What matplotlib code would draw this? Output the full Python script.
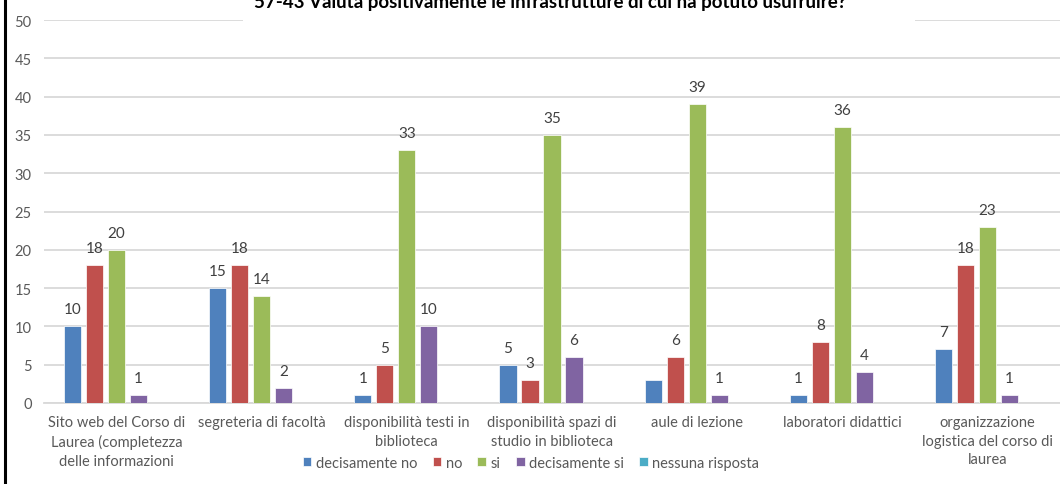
#!/usr/bin/env python3
"""
Grouped bar chart: valutazione delle infrastrutture (domanda 57-43).
"""

import numpy as np
import matplotlib
matplotlib.use('Agg')
import matplotlib.pyplot as plt
from matplotlib.patches import Rectangle

# Data
categories = [
    'Sito web del Corso di\nLaurea (completezza\ndelle informazioni',
    'segreteria di facoltà',
    'disponibilità testi in\nbiblioteca',
    'disponibilità spazi di\nstudio in biblioteca',
    'aule di lezione',
    'laboratori didattici',
    'organizzazione\nlogistica del corso di\nlaurea',
]
series_names = ['decisamente no', 'no', 'si', 'decisamente si', 'nessuna risposta']
decisamente_no = [10, 15, 1, 5, 3, 1, 7]
no = [18, 18, 5, 3, 6, 8, 18]
si = [20, 14, 33, 35, 39, 36, 23]
decisamente_si = [1, 2, 10, 6, 1, 4, 1]
nessuna_risposta = [0, 0, 0, 0, 0, 0, 0]
# labels missing in the original chart: (series index, category index)
hidden_labels = [(0, 4)]

title = '57-43 Valuta positivamente le infrastrutture di cui ha potuto usufruire?'
y_ticks = [0, 5, 10, 15, 20, 25, 30, 35, 40, 45, 50]


def main():
    plt.rcParams['font.family'] = ['Lato', 'DejaVu Sans']

    colors = ['#4F81BD', '#C0504D', '#9BBB59', '#8064A2', '#4BACC6']
    values = [decisamente_no, no, si, decisamente_si, nessuna_risposta]

    W, H = 1060, 485
    fig = plt.figure(figsize=(W / 100, H / 100), dpi=100)
    ax = fig.add_axes([44 / W, (H - 404) / H, (W - 44) / W, 383 / H])

    x = np.arange(len(categories))
    slot = 0.1516
    bar_w = 0.118
    for i, (name, vals) in enumerate(zip(series_names, values)):
        pos = x + (i - 2) * slot
        ax.bar(pos, vals, width=bar_w, color=colors[i], label=name,
               edgecolor='white', linewidth=0.5, zorder=3)
        for j, v in enumerate(vals):
            if v > 0 and (i, j) not in hidden_labels:
                ax.annotate(str(v), (pos[j], v), xytext=(0, 17),
                            textcoords='offset pixels', ha='center', va='center',
                            fontsize=11, color='#404040')

    ax.set_xlim(-0.5, len(categories) - 0.5)
    ax.set_ylim(0, 50)
    ax.set_yticks(y_ticks)
    ax.set_xticks(x)
    ax.set_xticklabels(categories, linespacing=1.4)
    ax.tick_params(axis='both', length=0, labelsize=10.5, labelcolor='#595959')
    ax.tick_params(axis='x', pad=9)
    ax.tick_params(axis='y', pad=9)
    ax.grid(axis='y', color='#D9D9D9', linewidth=1.3, zorder=0)
    for side in ['top', 'right', 'left']:
        ax.spines[side].set_visible(False)
    ax.spines['bottom'].set_color('#D9D9D9')
    ax.spines['bottom'].set_linewidth(1.3)

    fig.legend(loc='center', bbox_to_anchor=(531 / W, (H - 464) / H), ncol=5,
               frameon=False, fontsize=10.5, handlelength=0.6, handleheight=0.6,
               handletextpad=0.3, columnspacing=1.05, labelcolor='#595959')

    # white box behind the (clipped) title
    fig.patches.append(Rectangle((243 / W, (H - 32) / H), 672 / W, 32 / H,
                                 transform=fig.transFigure, facecolor='white',
                                 edgecolor='none', zorder=5))
    fig.text(550 / W, 1 - 8 / H, title, ha='center', va='baseline',
             fontsize=13.5, fontweight='bold', color='black', zorder=6)

    # left border of the pasted chart
    fig.add_artist(plt.Line2D([4.5 / W, 4.5 / W], [0, 1], transform=fig.transFigure,
                              color='black', linewidth=2.2))

    fig.savefig('out.png', dpi=100, facecolor='white')


if __name__ == '__main__':
    main()
